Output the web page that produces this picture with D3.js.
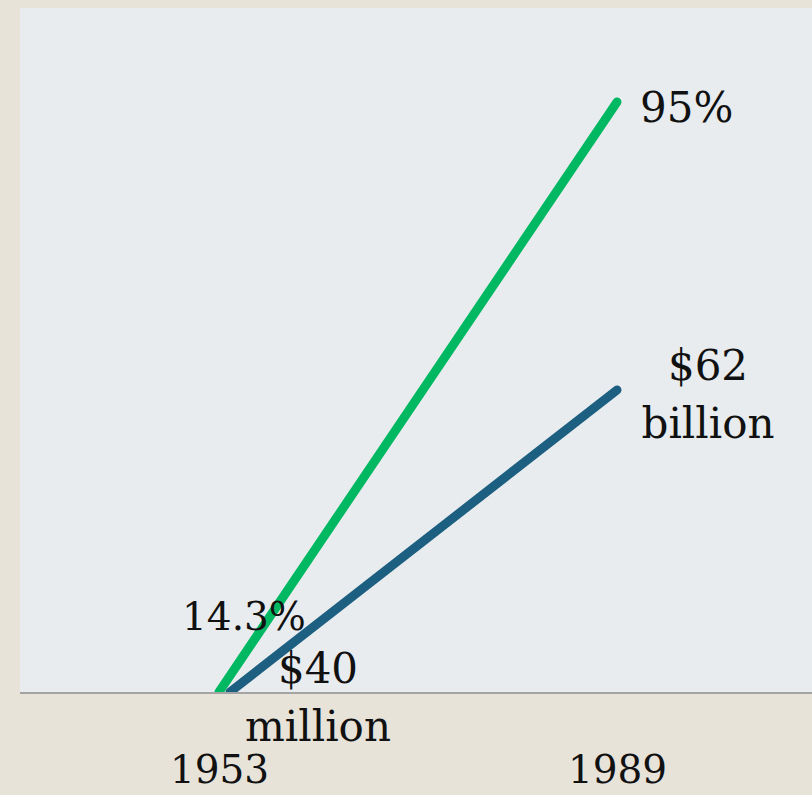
<!DOCTYPE html>
<html>
<head>
<meta charset="utf-8">
<script src="https://cdn.jsdelivr.net/npm/d3@7"></script>
<style>
  body { margin: 0; background: #e7e3d9; }
  text { font-family: "DejaVu Serif", "Liberation Serif", serif; fill: #111; }
</style>
</head>
<body>
<div id="chart"></div>
<script>
// data
var years = [1953, 1989];
var shareSeries = [[1953, 0], [1989, 95]];      // percent
var moneySeries = [[1954, 0], [1989, 62]];      // $ billion
var shareLabels = ["14.3%", "95%"];
var moneyLabels = [["$40", "million"], ["$62", "billion"]];

var width = 812, height = 795;
var plot = {left: 20, top: 8, right: 812, bottom: 692};

var svg = d3.select("#chart")
  .append("svg")
  .attr("width", width)
  .attr("height", height);

// plot background
svg.append("rect")
  .attr("x", plot.left)
  .attr("y", plot.top)
  .attr("width", plot.right - plot.left)
  .attr("height", plot.bottom - plot.top)
  .attr("fill", "#e8ecee");

svg.append("clipPath").attr("id", "clip")
  .append("rect")
  .attr("x", plot.left)
  .attr("y", plot.top)
  .attr("width", plot.right - plot.left)
  .attr("height", plot.bottom - plot.top);

var x = d3.scaleLinear().domain([1953, 1989]).range([219, 617]);
var yShare = d3.scaleLinear().domain([0, 95]).range([plot.bottom, 102]);
var yMoney = d3.scaleLinear().domain([0, 62]).range([plot.bottom, 390]);

var lines = svg.append("g").attr("clip-path", "url(#clip)");

lines.append("path")
  .datum(moneySeries)
  .attr("fill", "none")
  .attr("stroke", "#1d5f80")
  .attr("stroke-width", 9)
  .attr("stroke-linecap", "round")
  .attr("d", d3.line().x(function(d){ return x(d[0]) }).y(function(d){ return yMoney(d[1]) }));

lines.append("path")
  .datum(shareSeries)
  .attr("fill", "none")
  .attr("stroke", "#00b862")
  .attr("stroke-width", 9)
  .attr("stroke-linecap", "round")
  .attr("d", d3.line().x(function(d){ return x(d[0]) }).y(function(d){ return yShare(d[1]) }));

// baseline
svg.append("line")
  .attr("x1", plot.left)
  .attr("x2", plot.right)
  .attr("y1", plot.bottom + 1)
  .attr("y2", plot.bottom + 1)
  .attr("stroke", "#a4a4a4")
  .attr("stroke-width", 2);

// x axis (years)
var xAxis = svg.append("g")
  .attr("transform", "translate(0," + plot.bottom + ")")
  .call(d3.axisBottom(x).tickValues(years).tickFormat(d3.format("d")).tickSize(0));
xAxis.select(".domain").remove();
xAxis.selectAll("text")
  .attr("dy", null)
  .attr("y", 91)
  .style("font-size", "39px")
  .style("font-family", "\"DejaVu Serif\", serif")
  .attr("fill", "#111");

// share labels
svg.append("text")
  .attr("x", 182)
  .attr("y", 630)
  .style("font-size", "39px")
  .text(shareLabels[0]);

svg.append("text")
  .attr("x", 640)
  .attr("y", 122)
  .style("font-size", "42px")
  .text(shareLabels[1]);

// money labels
var moneyPos = [[318, 683], [708, 380]];
moneyLabels.forEach(function(lbl, i){
  var t = svg.append("text")
    .attr("text-anchor", "middle")
    .style("font-size", "42px");
  lbl.forEach(function(s, j){
    t.append("tspan")
      .attr("x", moneyPos[i][0])
      .attr("y", moneyPos[i][1] + j * 58)
      .text(s);
  });
});
</script>
</body>
</html>
